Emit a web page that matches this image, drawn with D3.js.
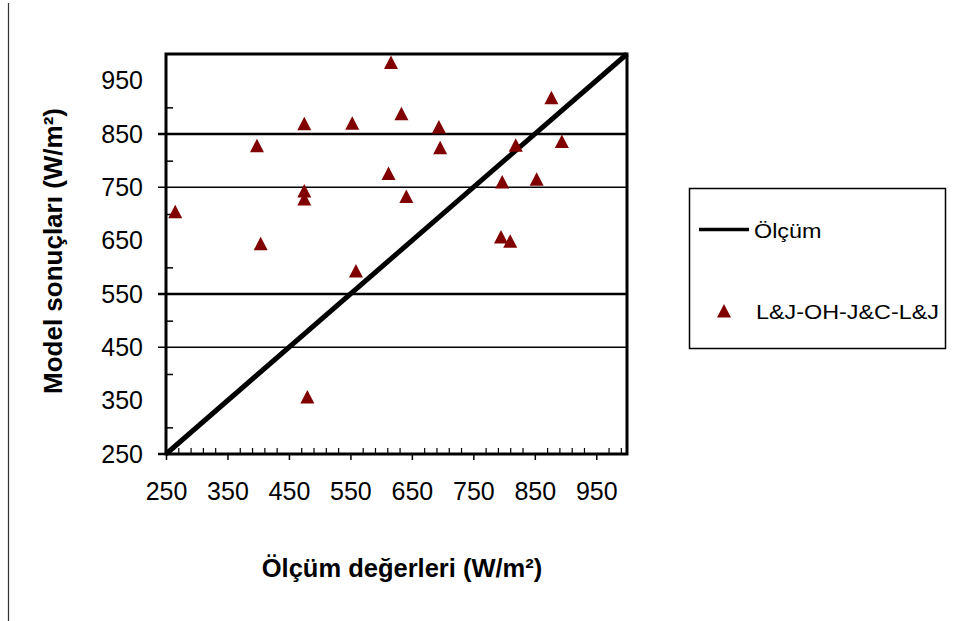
<!DOCTYPE html>
<html>
<head>
<meta charset="utf-8">
<script src="https://cdn.jsdelivr.net/npm/d3@7"></script>
<style>
  body { margin: 0; background: #fff; }
  text { font-family: "Liberation Sans", Arial, sans-serif; fill: #000; }
</style>
</head>
<body>
<div id="chart"></div>
<script>
const measured = [265, 398, 404, 475, 475, 475, 480, 553, 559, 612, 616,
                  633, 641, 694, 696, 795, 797, 810, 819, 853, 877, 894]
const modelled = [704, 828, 644, 869, 743, 728, 357, 870, 593, 776, 984,
                  888, 733, 863, 824, 657, 760, 649, 829, 765, 918, 836]
const refLine = [250, 1000]
const xTicks = [250, 350, 450, 550, 650, 750, 850, 950]
const yTicks = [250, 350, 450, 550, 650, 750, 850, 950]
const gridLines = [450, 550, 750, 850]
const seriesNames = ["Ölçüm", "L&J-OH-J&C-L&J"]

const width = 959
const height = 621
const svg = d3.select("#chart")
  .append("svg")
    .attr("width", width)
    .attr("height", height)

const x = d3.scaleLinear().domain([250, 1000]).range([166, 627])
const y = d3.scaleLinear().domain([250, 1000]).range([454, 54])

// thin line on the left edge of the scan
svg.append("line")
  .attr("x1", 8.5).attr("x2", 8.5)
  .attr("y1", 3).attr("y2", height)
  .attr("stroke", "#333").attr("stroke-width", 1.2)

// horizontal grid lines
svg.append("g")
  .selectAll("line")
  .data(gridLines)
  .join("line")
    .attr("x1", 158)
    .attr("x2", x(1000))
    .attr("y1", d => y(d))
    .attr("y2", d => y(d))
    .attr("stroke", "#000")
    .attr("stroke-width", d => (d == 850 || d == 550) ? 2.5 : 1.5)

// x axis: major ticks down, minor ticks up
const xMinor = d3.range(270, 1000, 20).filter(v => (v - 250) % 100 != 0)
svg.append("g")
  .attr("transform", `translate(0,${y(250)})`)
  .call(d3.axisBottom(x).tickValues(xTicks).tickSize(6).tickPadding(22))
  .call(g => g.select(".domain").remove())
  .call(g => g.selectAll(".tick line").attr("stroke-width", 1.5))
  .call(g => g.selectAll("text").attr("font-size", 25).attr("font-family", "Liberation Sans"))
svg.append("g")
  .attr("transform", `translate(0,${y(250)})`)
  .call(d3.axisBottom(x).tickValues(xMinor).tickSize(-6).tickFormat(""))
  .call(g => g.select(".domain").remove())
  .call(g => g.selectAll(".tick line").attr("stroke-width", 1.2))

// y axis: labels, minor ticks inside
const yMinor = d3.range(300, 1000, 100)
svg.append("g")
  .attr("transform", `translate(${x(250)},0)`)
  .call(d3.axisLeft(y).tickValues(yTicks).tickSize(0).tickPadding(23))
  .call(g => g.select(".domain").remove())
  .call(g => g.selectAll("text").attr("font-size", 25).attr("font-family", "Liberation Sans"))
svg.append("g")
  .attr("transform", `translate(${x(250)},0)`)
  .call(d3.axisLeft(y).tickValues(yMinor).tickSize(-7).tickFormat(""))
  .call(g => g.select(".domain").remove())
  .call(g => g.selectAll(".tick line").attr("stroke-width", 1.5))

// bottom axis line extends a little left
svg.append("line")
  .attr("x1", 158).attr("x2", x(250))
  .attr("y1", y(250)).attr("y2", y(250))
  .attr("stroke", "#000").attr("stroke-width", 2.5)

// 1:1 line
svg.append("path")
  .datum(refLine)
  .attr("fill", "none")
  .attr("stroke", "#000")
  .attr("stroke-width", 5)
  .attr("d", d3.line().x(d => x(d)).y(d => y(d)))

// triangles
const tri = "M0,-7L7,6.5L-7,6.5Z"
svg.append("g")
  .selectAll("path")
  .data(measured.map((m, i) => [m, modelled[i]]))
  .join("path")
    .attr("d", tri)
    .attr("transform", d => `translate(${x(d[0])},${y(d[1])})`)
    .attr("fill", "#800000")

// plot frame
svg.append("rect")
  .attr("x", x(250)).attr("y", y(1000))
  .attr("width", x(1000) - x(250))
  .attr("height", y(250) - y(1000))
  .attr("fill", "none")
  .attr("stroke", "#000")
  .attr("stroke-width", 3)

// axis titles
svg.append("text")
  .attr("x", 402).attr("y", 577)
  .attr("text-anchor", "middle")
  .attr("font-size", 25.5).attr("font-weight", "bold")
  .text("Ölçüm değerleri (W/m²)")
svg.append("text")
  .attr("transform", "translate(62,251) rotate(-90)")
  .attr("text-anchor", "middle")
  .attr("font-size", 26).attr("font-weight", "bold")
  .text("Model sonuçları (W/m²)")

// legend
const legend = svg.append("g")
legend.append("rect")
  .attr("x", 689.5).attr("y", 188.5)
  .attr("width", 256).attr("height", 160)
  .attr("fill", "#fff").attr("stroke", "#000").attr("stroke-width", 1.5)
legend.append("line")
  .attr("x1", 699).attr("x2", 749)
  .attr("y1", 229.5).attr("y2", 229.5)
  .attr("stroke", "#000").attr("stroke-width", 3.5)
legend.append("text")
  .attr("transform", "translate(754,238) scale(1.14,1)")
  .attr("font-size", 20.5)
  .text(seriesNames[0])
legend.append("path")
  .attr("d", tri)
  .attr("transform", "translate(724,311)")
  .attr("fill", "#800000")
legend.append("text")
  .attr("transform", "translate(756,319) scale(1.14,1)")
  .attr("font-size", 20.5)
  .text(seriesNames[1])
</script>
</body>
</html>
